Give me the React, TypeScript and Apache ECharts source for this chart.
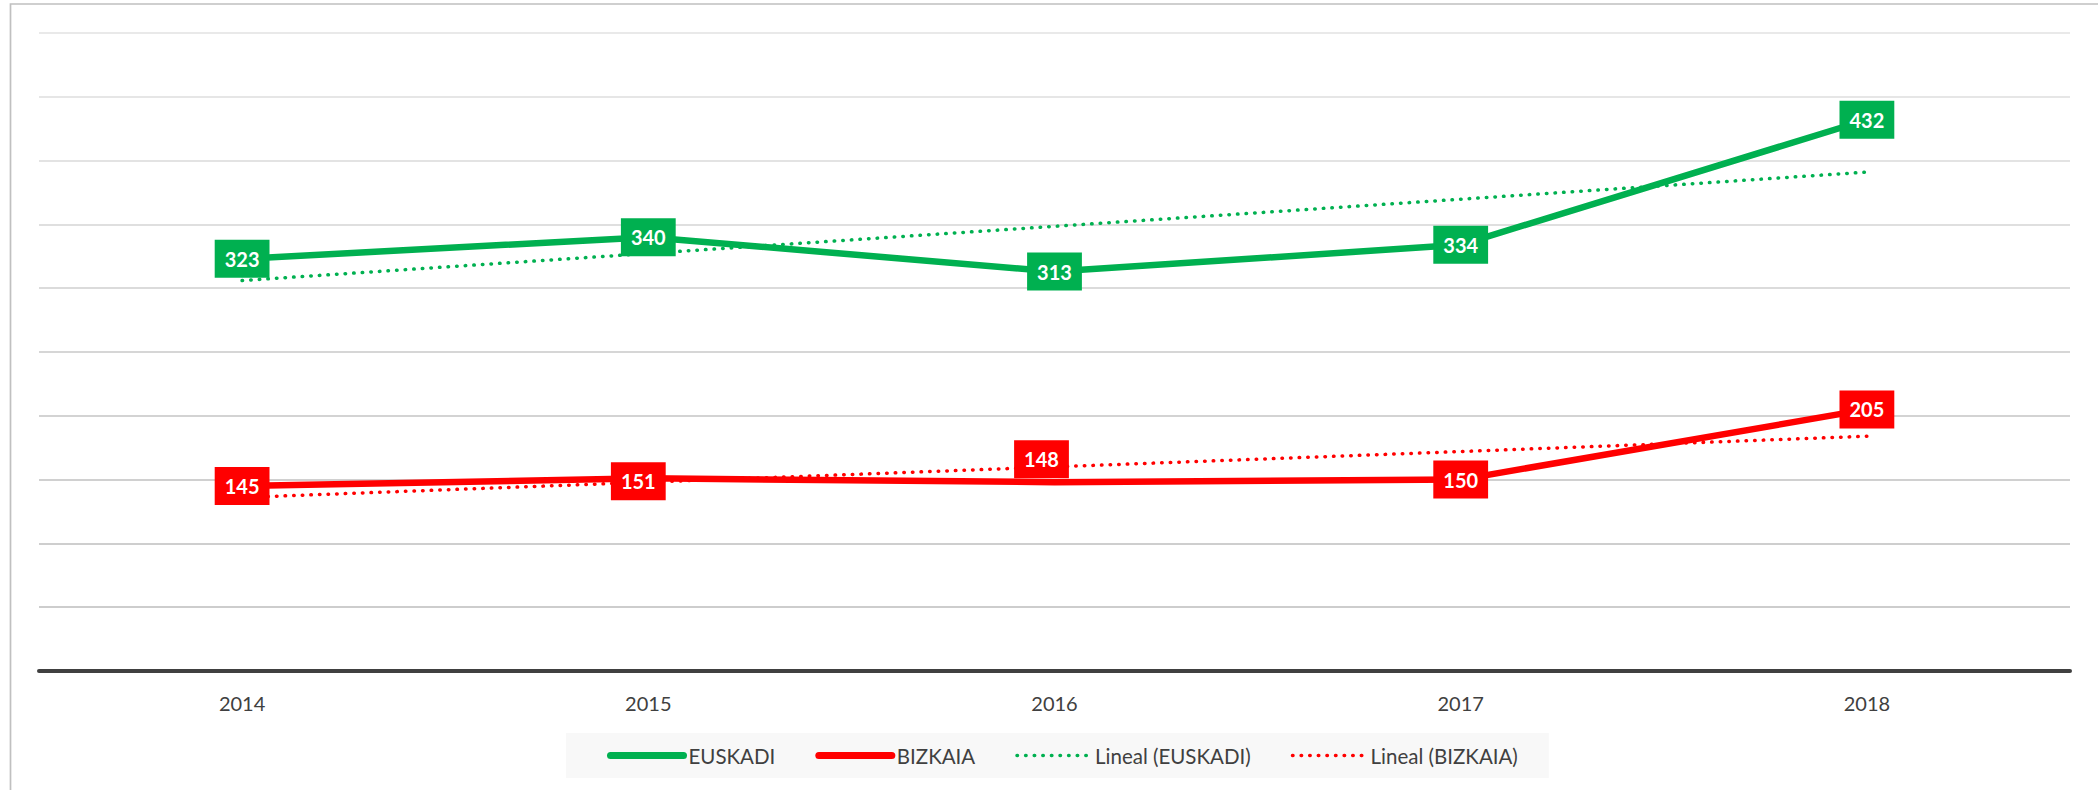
import React, { useEffect, useRef } from "react";
import * as echarts from "echarts";

const categories = ["2014", "2015", "2016", "2017", "2018"];
const euskadi = [323, 340, 313, 334, 432];
const bizkaia = [145, 151, 148, 150, 205];
// trend lines (start and end points only)
const trendEuskadi: (number | null)[] = [306, null, null, null, 391];
const trendBizkaia: (number | null)[] = [136, null, null, null, 184];
const yMin = 0;
const yMax = 500;
const yInterval = 50;

const GREEN = "#00B050";
const RED = "#FF0000";
const FONT = "Lato, 'Noto Sans', sans-serif";

// manual label nudges (style, not data)
const bizkaiaLabelOffsets: Record<number, [number, number]> = {
  1: [-10, 3],
  2: [-13, -23],
};

function labelStyle(color: string) {
  return {
    show: true,
    position: "inside",
    color: "#ffffff",
    fontFamily: FONT,
    fontWeight: "bold",
    fontSize: 20,
    lineHeight: 20,
    backgroundColor: color,
    padding: [9, 10, 9, 10],
  };
}

export default function App() {
  const ref = useRef<HTMLDivElement>(null);

  useEffect(() => {
    if (!ref.current) return;
    const chart = echarts.init(ref.current, null, { renderer: "svg" });

    const bizData = bizkaia.map((v, i) =>
      bizkaiaLabelOffsets[i]
        ? { value: v, label: { offset: bizkaiaLabelOffsets[i] } }
        : v
    );

    const option: any = {
      animation: false,
      backgroundColor: "#ffffff",
      grid: { left: 39, right: 28, top: 33, bottom: 119 },
      graphic: [
        {
          type: "rect",
          shape: { x: 10.5, y: 4, width: 4000, height: 4000 },
          style: { fill: "none", stroke: "#c0c0c0", lineWidth: 1.7 },
          silent: true,
          z: -1,
        },
      ],
      legend: {
        left: 566,
        top: 733,
        padding: [12, 31, 12, 41],
        backgroundColor: "#f8f8f8",
        itemWidth: 73,
        itemHeight: 7,
        itemGap: 40,
        textStyle: { fontFamily: FONT, fontSize: 20.5, color: "#404040" },
        data: [
          {
            name: "EUSKADI",
            itemStyle: { opacity: 0 },
            lineStyle: { width: 7, cap: "round", type: "solid", color: GREEN },
          },
          {
            name: "BIZKAIA",
            itemStyle: { opacity: 0 },
            lineStyle: { width: 7, cap: "round", type: "solid", color: RED },
          },
          {
            name: "Lineal (EUSKADI)",
            itemStyle: { opacity: 0 },
            lineStyle: { width: 3.5, cap: "round", type: [0.5, 8.1], color: GREEN },
          },
          {
            name: "Lineal (BIZKAIA)",
            itemStyle: { opacity: 0 },
            lineStyle: { width: 3.5, cap: "round", type: [0.5, 8.1], color: RED },
          },
        ],
      },
      xAxis: {
        type: "category",
        data: categories,
        boundaryGap: true,
        axisTick: { show: false },
        axisLine: { show: true, lineStyle: { color: "#404040", width: 4 } },
        axisLabel: {
          margin: 22,
          color: "#404040",
          fontFamily: FONT,
          fontSize: 20,
        },
        splitLine: { show: false },
      },
      yAxis: {
        type: "value",
        min: yMin,
        max: yMax,
        interval: yInterval,
        axisLabel: { show: false },
        axisTick: { show: false },
        axisLine: { show: false },
        splitLine: {
          show: true,
          lineStyle: {
            width: 1.5,
            color: [
              "#bdbdbd",
              "#bdbdbd",
              "#bebebe",
              "#c0c0c0",
              "#c4c4c4",
              "#c9c9c9",
              "#cfcfcf",
              "#d5d5d5",
              "#dadada",
              "#dedede",
              "#e2e2e2",
            ],
          },
        },
      },
      series: [
        {
          name: "Lineal (EUSKADI)",
          type: "line",
          data: trendEuskadi,
          connectNulls: true,
          symbol: "none",
          z: 2,
          lineStyle: { color: GREEN, width: 3.5, type: [0.5, 8.1], cap: "round" },
          itemStyle: { color: GREEN },
        },
        {
          name: "Lineal (BIZKAIA)",
          type: "line",
          data: trendBizkaia,
          connectNulls: true,
          symbol: "none",
          z: 2,
          lineStyle: { color: RED, width: 3.5, type: [0.5, 8.1], cap: "round" },
          itemStyle: { color: RED },
        },
        {
          name: "EUSKADI",
          type: "line",
          data: euskadi,
          symbol: "rect",
          symbolSize: 1,
          showSymbol: true,
          z: 3,
          lineStyle: { color: GREEN, width: 6.5 },
          itemStyle: { color: GREEN },
          label: labelStyle(GREEN),
        },
        {
          name: "BIZKAIA",
          type: "line",
          data: bizData,
          symbol: "rect",
          symbolSize: 1,
          showSymbol: true,
          z: 3,
          lineStyle: { color: RED, width: 6.5 },
          itemStyle: { color: RED },
          label: labelStyle(RED),
        },
      ],
    };

    chart.setOption(option);
    return () => chart.dispose();
  }, []);

  return (
    <div
      ref={ref}
      style={{ position: "fixed", left: 0, top: 0, width: 2098, height: 790 }}
    />
  );
}
